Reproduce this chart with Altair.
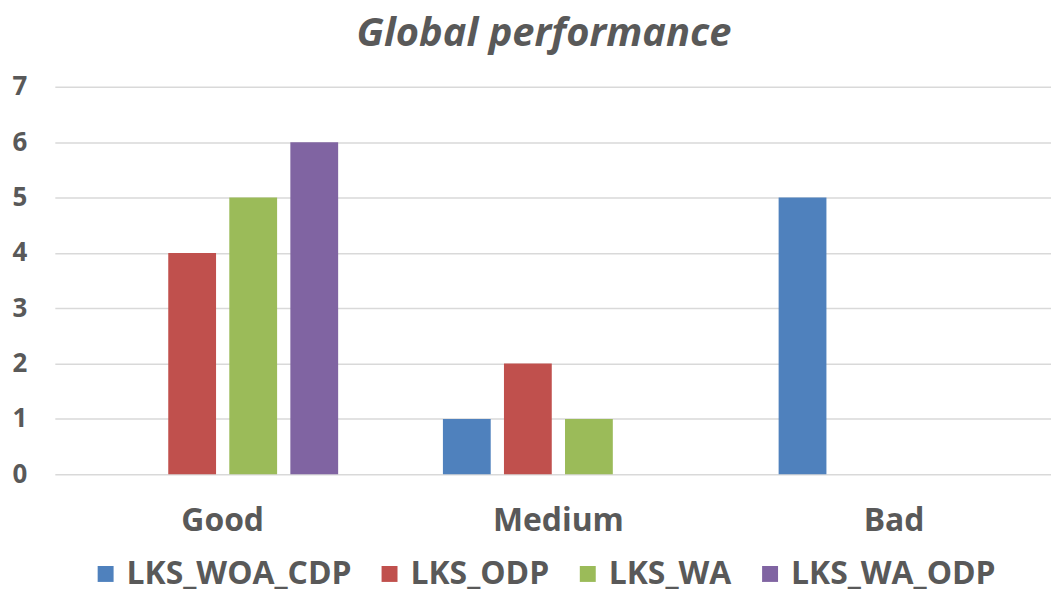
import altair as alt
import pandas as pd

categories = ["Good", "Medium", "Bad"]
series = ["LKS_WOA_CDP", "LKS_ODP", "LKS_WA", "LKS_WA_ODP"]
values = {
    "LKS_WOA_CDP": [0, 1, 5],
    "LKS_ODP": [4, 2, 0],
    "LKS_WA": [5, 1, 0],
    "LKS_WA_ODP": [6, 0, 0],
}
colors = ["#4F81BD", "#C0504D", "#9BBB59", "#8064A2"]
y_ticks = [0, 1, 2, 3, 4, 5, 6, 7]

rows = []
for s in series:
    for c, v in zip(categories, values[s]):
        rows.append({"category": c, "series": s, "value": v})
df = pd.DataFrame(rows)

FONT = "Open Sans"
GRAY = "#595959"

chart = alt.Chart(df).mark_bar().encode(
    x=alt.X("category:N", sort=categories,
            scale=alt.Scale(range=[0, 1011], paddingInner=0, paddingOuter=0),
            axis=alt.Axis(title=None, labelAngle=0, labelFont=FONT, labelFontSize=32,
                          labelFontWeight="bold", labelColor=GRAY, labelPadding=31,
                          ticks=False, domain=False, grid=False)),
    xOffset=alt.XOffset("series:N", sort=series,
                        scale=alt.Scale(paddingInner=0.217, paddingOuter=0.858)),
    y=alt.Y("value:Q", scale=alt.Scale(domain=[0, 7], nice=False),
            axis=alt.Axis(title=None, values=y_ticks, labelFont=FONT, labelFontSize=26,
                          labelFontWeight="bold", labelColor=GRAY, labelPadding=28,
                          ticks=False, domain=False, grid=True, gridColor="#D9D9D9",
                          gridWidth=1.5)),
    color=alt.Color("series:N", sort=series,
                    scale=alt.Scale(domain=series, range=colors),
                    legend=alt.Legend(title=None, orient="none", direction="horizontal",
                                      legendX=35, legendY=473, padding=0,
                                      symbolType="square", symbolSize=256,
                                      symbolStrokeWidth=0, labelFont=FONT,
                                      labelFontSize=32, labelFontWeight="bold",
                                      labelColor=GRAY, labelOffset=5,
                                      columnPadding=22, labelLimit=400)),
).properties(
    width=1000,
    height=389,
    title=alt.TitleParams("Global performance", font=FONT, fontSize=40,
                          fontWeight="bold", fontStyle="italic", color=GRAY,
                          anchor="middle", offset=20, dx=-9),
    autosize=alt.AutoSizeParams(type="none"),
    padding={"left": 47, "top": 78, "right": 0, "bottom": 119},
).configure_view(stroke=None)

chart.save("out.html", embed_options={"renderer": "svg", "actions": False})
